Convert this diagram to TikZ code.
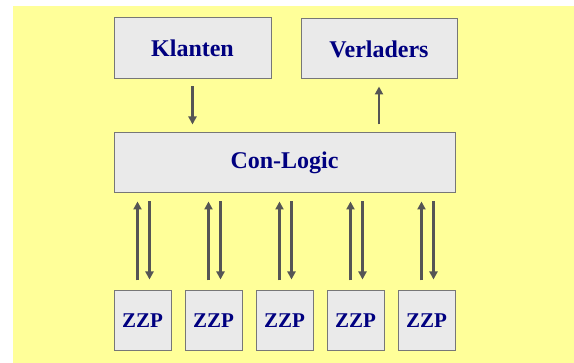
\documentclass[tikz,border=0pt]{standalone}
\usepackage{fontspec}
\setmainfont{Liberation Serif}[BoldFont={Liberation Serif Bold}]
\usetikzlibrary{arrows.meta}
\definecolor{bgyellow}{HTML}{FFFF99}
\definecolor{boxgray}{HTML}{EAEAEA}
\definecolor{framegray}{HTML}{777777}
\definecolor{namenavy}{HTML}{000080}
\definecolor{arrowgray}{HTML}{555555}
\begin{document}
\begin{tikzpicture}[x=1pt,y=-1pt]
\tikzstyle{every node}=[font=\rmfamily\bfseries\fontsize{24}{28}\selectfont, text=namenavy]
\tikzstyle{party}=[draw=framegray, line width=1pt, fill=boxgray, inner sep=0pt]
\tikzstyle{flow}=[draw=arrowgray, line width=2.2pt, -{Triangle[width=8pt,length=8pt]}]

   % Background
   \useasboundingbox (0,0) rectangle (574,363);
   \fill[bgyellow] (13,6) rectangle (574,363);

   % Boxes
   \node[party, minimum width=157pt, minimum height=61pt] (klanten) at (192.5,48.5) {Klanten};
   \node[party, minimum width=156pt, minimum height=60pt] (verladers) at (379,49) {Verladers};
   \node[party, minimum width=341pt, minimum height=60pt] (con) at (284.5,163) {Con-Logic};

   \foreach \i in {0,1,2,3,4}
     \node[party, minimum width=57pt, minimum height=60pt, font=\rmfamily\bfseries\fontsize{21}{25}\selectfont]
       (zzp\i) at (142.5+71*\i,321) {ZZP};

   % Arrows to and from the top boxes
   \draw[flow, shorten <=7pt, shorten >=8pt] (klanten.south) -- (klanten.south |- con.north);
   \draw[flow, shorten <=8pt, shorten >=7pt] (verladers.south |- con.north) -- (verladers.south);

   % Arrows between ZZP and Con-Logic
   \foreach \i in {0,1,2,3,4} {
     \draw[flow, shorten <=10pt, shorten >=8pt] ([xshift=-5pt]zzp\i.north) -- ([xshift=-5pt]zzp\i.north |- con.south);
     \draw[flow, shorten <=8pt, shorten >=11pt] ([xshift=7pt]zzp\i.north |- con.south) -- ([xshift=7pt]zzp\i.north);
   }

\end{tikzpicture}
\end{document}
